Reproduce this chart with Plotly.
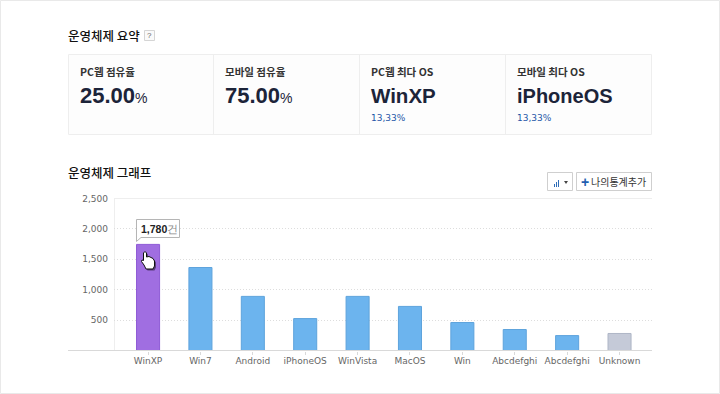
import plotly.graph_objects as go

W, H = 720, 394
categories = ["WinXP", "Win7", "Android", "iPhoneOS", "WinVista", "MacOS", "Win", "Abcdefghi", "Abcdefghi ", "Unknown"]
values = [1745, 1365, 890, 525, 890, 725, 460, 345, 245, 280]
fills = ["#a06ee1"] + ["#6cb4ee"] * 8 + ["#c5cad8"]
lines = ["#8f5bd6"] + ["#5ea3dc"] * 8 + ["#aeb5c6"]
y_ticks = [500, 1000, 1500, 2000, 2500]
y_labels = ["500", "1,000", "1,500", "2,000", "2,500"]
KR = "'Noto Sans CJK KR', 'Noto Sans', sans-serif"
LAT = "'Liberation Sans', Arial, sans-serif"
TICK = "'DejaVu Sans', sans-serif"

def px(x): return x / W
def py(y): return 1 - y / H

shapes, ann = [], []
def rect(x0, y0, x1, y1, line="#eeeeee", fill=None, width=1, layer="below", dash=None):
    shapes.append(dict(type="rect", xref="paper", yref="paper", x0=px(x0), x1=px(x1), y0=py(y0), y1=py(y1),
                       line=dict(color=line, width=width, dash=dash), fillcolor=fill or "rgba(0,0,0,0)", layer=layer))
def hline(x0, x1, y, color, dash=None, layer="below"):
    shapes.append(dict(type="line", xref="paper", yref="paper", x0=px(x0), x1=px(x1), y0=py(y), y1=py(y),
                       line=dict(color=color, width=1, dash=dash), layer=layer))
def vline(x, y0, y1, color, layer="below"):
    shapes.append(dict(type="line", xref="paper", yref="paper", x0=px(x), x1=px(x), y0=py(y0), y1=py(y1),
                       line=dict(color=color, width=1), layer=layer))
def text(x, y, s, size, color="#333333", font=KR, anchor="left", weight=None):
    f = dict(size=size, color=color, family=font)
    if weight:
        f["weight"] = weight
    ann.append(dict(xref="paper", yref="paper", x=px(x), y=py(y), text=s, showarrow=False, xanchor=anchor,
                    yanchor="middle", align=anchor, font=f, borderpad=0, borderwidth=0))
def path(points, fill, line, width=1, layer="above"):
    d = "M " + " L ".join(f"{px(a):.5f},{py(b):.5f}" for a, b in points) + " Z"
    shapes.append(dict(type="path", xref="paper", yref="paper", path=d, fillcolor=fill,
                       line=dict(color=line, width=width), layer=layer))

# page frame
rect(0.5, 0.5, 719.5, 393.5, line="#e9e9e9")

# summary header
text(68, 35.5, "운영체제 요약", 12.5, "#111111", weight=500)
rect(144.5, 30.5, 154.5, 40.5, line="#d5d5d5", fill="#fafafa")
text(149.5, 35.5, "?", 8, "#666666", LAT, "center")

# summary cards
rect(68.5, 54.5, 651.5, 134.5, line="#eeeeee", fill="#fdfdfd")
for x in (213.5, 359.5, 505.5):
    vline(x, 54.5, 134.5, "#eeeeee")
text(80, 71.5, "<b>PC웹 점유율</b>", 10.5, "#333333")
text(225, 71.5, "<b>모바일 점유율</b>", 10.5, "#333333")
text(371, 71.5, "<b>PC웹 최다 OS</b>", 10.5, "#333333")
text(517, 71.5, "<b>모바일 최다 OS</b>", 10.5, "#333333")
pct = "<span style='font-size:14px;font-weight:400'>%</span>"
text(79.5, 95.5, f"<b>25.00</b>{pct}", 22, "#1c2439", LAT)
text(224.5, 95.5, f"<b>75.00</b>{pct}", 22, "#1c2439", LAT)
text(371, 95.5, "<b>WinXP</b>", 20.5, "#1c2439", LAT)
text(517, 95.5, "<b>iPhoneOS</b>", 20, "#1c2439", LAT)
text(371, 118, "13,33%", 9, "#1f57a8", TICK)
text(517, 118, "13,33%", 9, "#1f57a8", TICK)

# graph header and buttons
text(68, 172, "운영체제 그래프", 12.5, "#111111", weight=500)
rect(547.5, 172.5, 572.5, 190.5, line="#cfcfcf", fill="#ffffff")
rect(576.5, 172.5, 651.5, 190.5, line="#cfcfcf", fill="#ffffff")
for bx, top in ((554, 184), (556, 182), (558, 180)):
    vline(bx + 0.5, top, 187, "#2e6db8", layer="above")
path([(564, 181), (568, 181), (566, 184)], "#444444", "#444444", 0)
text(584.5, 181.5, "<b>+</b>", 14, "#1f5fb0", LAT, "center")
text(591, 181.5, "나의통계추가", 10, "#333333")

# chart furniture
hline(114, 652, 198.5, "#eeeeee")
vline(114.5, 198, 350, "#eeeeee")
hline(68, 652, 350.5, "#d9d9d9", layer="above")

# tooltip
path([(136.5, 219.5), (179.5, 219.5), (179.5, 237.5), (141, 237.5), (136.5, 241.5)], "#ffffff", "#b5b5b5")
text(141, 228.5, "<b>1,780</b><span style='color:#8a8a8a'>건</span>", 10.5, "#222222", LAT)

# hand cursor
hand = [(143.5, 253), (145, 251.5), (146.5, 253), (146.5, 257), (149, 256.5), (151, 257.5), (153, 258.5),
        (154.5, 261), (154.5, 266), (153, 269), (146, 269), (144, 265), (141.5, 261.5), (142, 260), (143.5, 260.5)]
path([(a + 1.5, b + 1.5) for a, b in hand], "rgba(0,0,0,0.45)", "rgba(0,0,0,0)", 0)
path(hand, "#ffffff", "#111111", 1)

fig = go.Figure(go.Bar(
    x=list(range(len(categories))), y=values, width=0.44,
    marker=dict(color=fills, line=dict(color=lines, width=1)),
    hoverinfo="skip",
))
fig.update_layout(
    width=W, height=H, margin=dict(l=0, r=0, t=0, b=0, pad=0, autoexpand=False), autosize=False,
    paper_bgcolor="#ffffff", plot_bgcolor="rgba(0,0,0,0)", showlegend=False,
    shapes=shapes, annotations=ann,
    xaxis=dict(domain=[px(114), px(652)], range=[-0.65, 9.62], tickmode="array",
               tickvals=list(range(len(categories))), ticktext=[c.strip() for c in categories],
               ticks="outside", ticklen=3, tickcolor="#d9d9d9", tickwidth=1, ticklabelstandoff=-1,
               tickfont=dict(size=9, color="#666666", family=TICK),
               showgrid=False, zeroline=False, showline=False, fixedrange=True),
    yaxis=dict(domain=[py(350.5), py(198.5)], range=[0, 2500], tickmode="array",
               tickvals=y_ticks, ticktext=y_labels, ticks="", ticklabelstandoff=5,
               tickfont=dict(size=9, color="#666666", family=TICK),
               showgrid=True, gridcolor="#dddddd", griddash="1px,2px", gridwidth=1,
               zeroline=False, showline=False, fixedrange=True),
)
fig.write_html("out.html", config={"displayModeBar": False},
               post_script="document.body.style.margin='0';")
